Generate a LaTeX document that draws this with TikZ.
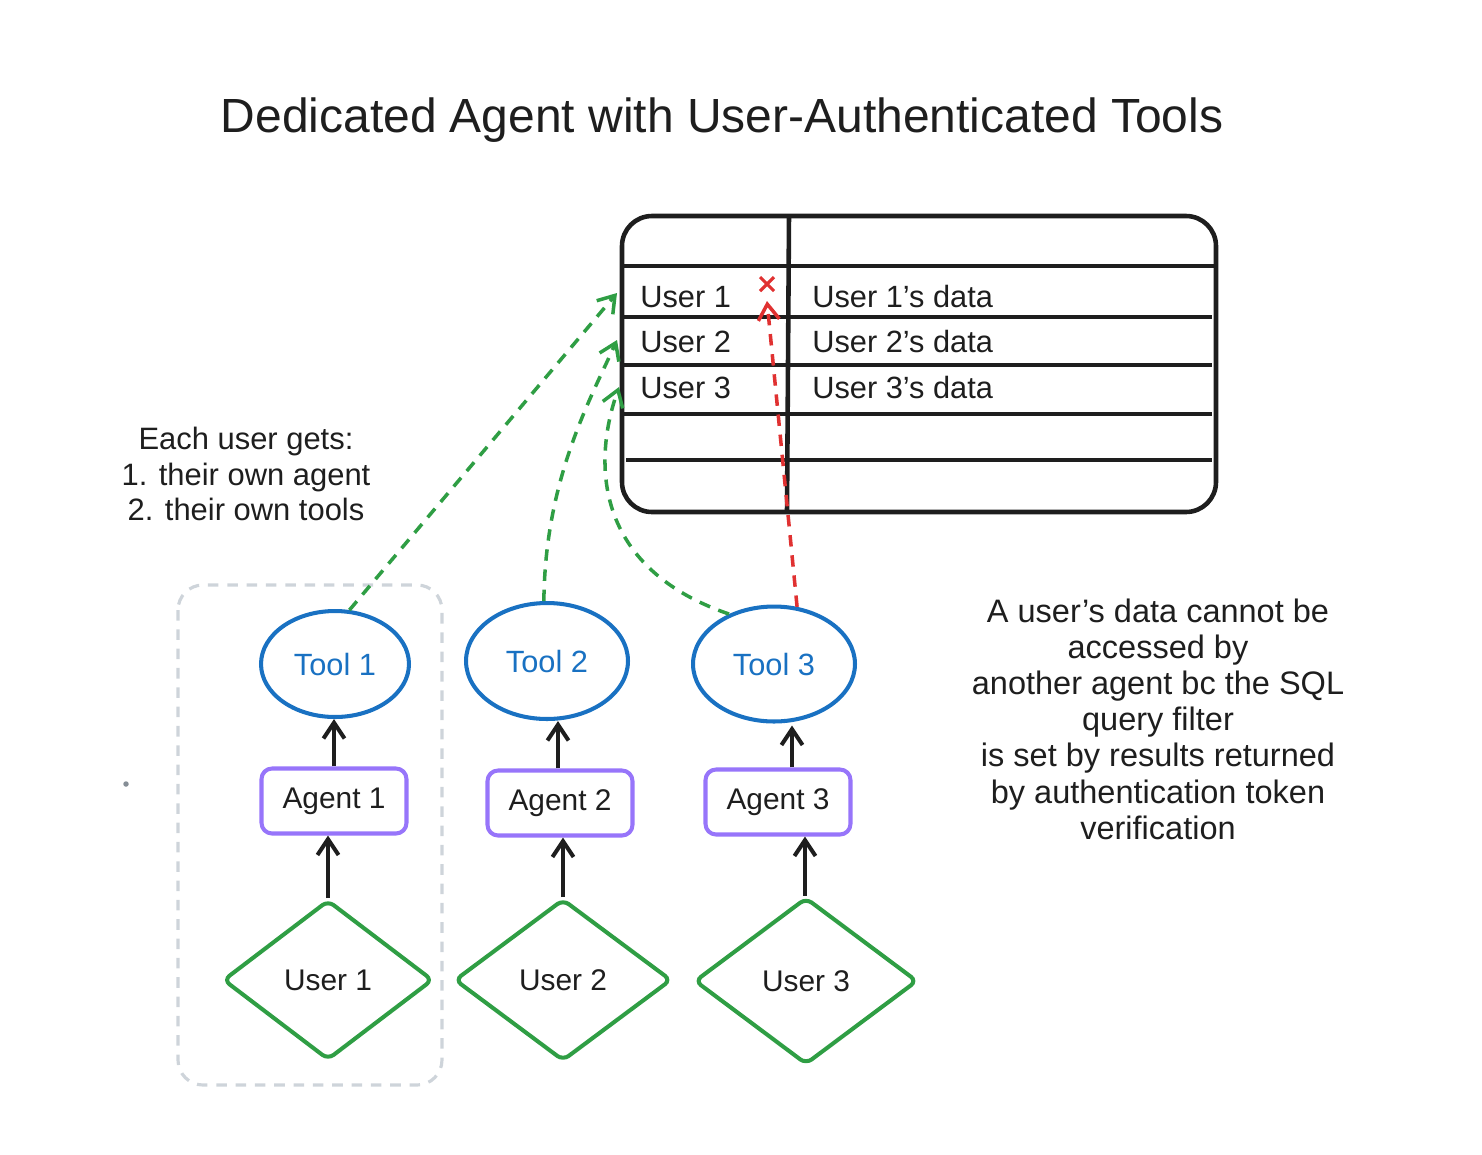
\documentclass[tikz,border=0pt]{standalone}
\usepackage{fontspec}
\setmainfont{Liberation Sans}
\usetikzlibrary{shapes.geometric,arrows.meta,calc}
\definecolor{inkc}{HTML}{1E1E1E}
\definecolor{bluec}{HTML}{1971C2}
\definecolor{purplec}{HTML}{9775FA}
\definecolor{greenc}{HTML}{2F9E44}
\definecolor{redc}{HTML}{E03131}
\definecolor{grayc}{HTML}{CED4DA}
\definecolor{dotc}{HTML}{868E96}
\begin{document}
\begin{tikzpicture}[x=0.02cm,y=-0.02cm,
  lbl/.style={font=\fontsize{17}{20}\selectfont, text=inkc},
  tool/.style={ellipse, draw=bluec, line width=2.3pt, text=bluec, inner sep=0pt, font=\fontsize{17.5}{20}\selectfont},
  agent/.style={rectangle, rounded corners=6pt, draw=purplec, line width=2.3pt, text=inkc, inner sep=0pt,
    minimum width=2.9cm, minimum height=1.3cm, font=\fontsize{17}{20}\selectfont},
  usr/.style={diamond, draw=greenc, line width=2.3pt, rounded corners=4pt, text=inkc, inner sep=0pt, font=\fontsize{17}{20}\selectfont},
  flow/.style={draw=inkc, line width=2.3pt, -{Straight Barb[length=9pt,width=12pt]}},
  tbl/.style={draw=inkc, line width=2.6pt},
  gdash/.style={draw=greenc, line width=2pt, dash pattern=on 6.5pt off 5pt, -{Straight Barb[length=9pt,width=12pt]}},
  rdash/.style={draw=redc, line width=2pt, dash pattern=on 6.5pt off 5pt, -{Straight Barb[length=9pt,width=12pt]}},
  cell/.style={anchor=base west, font=\fontsize{17.5}{20}\selectfont, text=inkc, inner sep=0pt}
]
\useasboundingbox (0,0) rectangle (1482,1154);

% title
\node[font=\fontsize{27.3}{30}\selectfont, text=inkc] (title) at (722,120) {Dedicated Agent with User-Authenticated Tools};

% table
\draw[tbl, rounded corners=0.6cm] (622,216) rectangle (1216,512);
\draw[tbl] (789,216) -- (787,512);
\draw[tbl] (622,266) -- (1216,266);
\draw[tbl] (622,317) -- (1212,317);
\draw[tbl] (622,365) -- (1212,365);
\draw[tbl] (622,414) -- (1212,414);
\draw[tbl] (626,460) -- (1212,460);
\node[cell] (c11) at (640,307) {User 1};
\node[cell] (c21) at (640,352) {User 2};
\node[cell] (c31) at (640,398) {User 3};
\node[cell] (c12) at (812,307) {User 1's data};
\node[cell] (c22) at (812,352) {User 2's data};
\node[cell] (c32) at (812,398) {User 3's data};

% red cross
\draw[draw=redc, line width=1.8pt] (760,277) -- (774,291) (774,277) -- (760,291);

% endpoints on table
\coordinate (e1) at (617,293);
\coordinate (e2) at (617,340);
\coordinate (e3) at (619,387);
\coordinate (ex) at (767,301);

% dashed group box
\draw[draw=grayc, line width=1.8pt, dash pattern=on 6pt off 5pt, rounded corners=0.5cm] (178,585) rectangle (442,1085);

% tools
\node[tool, minimum width=2.96cm, minimum height=2.12cm] (t1) at (335,664) {Tool 1};
\node[tool, minimum width=3.24cm, minimum height=2.32cm] (t2) at (547,661) {Tool 2};
\node[tool, minimum width=3.24cm, minimum height=2.3cm] (t3) at (774,664) {Tool 3};

% agents
\node[agent] (a1) at (334,801) {Agent 1};
\node[agent] (a2) at (560,803) {Agent 2};
\node[agent] (a3) at (778,802) {Agent 3};

% users
\node[usr, minimum width=4.2cm, minimum height=3.2cm] (u1) at (328,980) {User 1};
\node[usr, minimum width=4.34cm, minimum height=3.24cm] (u2) at (563,980) {User 2};
\node[usr, minimum width=4.46cm, minimum height=3.34cm] (u3) at (806,981) {User 3};

% flows
\draw[flow] (u1.north) -- (u1.north |- a1.south);
\draw[flow] (a1.north) -- (a1.north |- t1.south);
\draw[flow] (u2.north) -- (u2.north |- a2.south);
\draw[flow] ([xshift=-0.04cm]a2.north) -- ([xshift=-0.04cm]a2.north |- t2.south);
\draw[flow] ([xshift=-0.02cm]u3.north) -- ([xshift=-0.02cm]u3.north |- a3.south);
\draw[flow] ([xshift=0.28cm]a3.north) -- ([xshift=0.28cm,yshift=-0.04cm]a3.north |- t3.south);

% dashed access arrows
\draw[gdash] (t1.75) -- (e1);
\draw[gdash] (t2.93) .. controls (545,480) and (590,400) .. (e2);
\draw[gdash] (t3.132) .. controls (600,570) and (590,470) .. (e3);
\draw[rdash] (t3.68) -- (ex);

% notes
\node[lbl, align=center, font=\fontsize{17.6}{20}\selectfont] (note1) at (246,474) {Each user gets:\\1. their own agent\\2. their own tools};
\node[lbl, align=center, font=\fontsize{18.5}{20.6}\selectfont] (note2) at (1158,719) {A user's data cannot be\\accessed by\\another agent bc the SQL\\query filter\\is set by results returned\\by authentication token\\verification};

% stray dot
\fill[dotc] (126,784) circle (0.055cm);
\end{tikzpicture}
\end{document}
